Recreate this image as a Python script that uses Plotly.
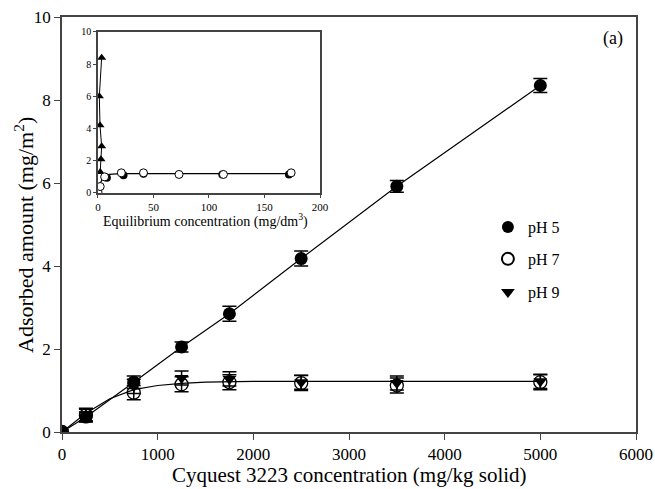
import plotly.graph_objects as go

# Main data
conc = [0, 250, 750, 1250, 1750, 2500, 3500, 5000]
ph5 = [0.0, 0.36, 1.2, 2.05, 2.85, 4.18, 5.92, 8.35]
ph5_err = [0.0, 0.12, 0.15, 0.12, 0.18, 0.18, 0.14, 0.17]
ph7 = [0.0, 0.4, 0.95, 1.15, 1.2, 1.18, 1.12, 1.2]
ph7_err = [0.0, 0.15, 0.17, 0.18, 0.18, 0.18, 0.18, 0.18]
ph9 = [0.0, 0.42, 1.1, 1.3, 1.28, 1.2, 1.18, 1.22]
ph9_err = [0.0, 0.15, 0.17, 0.17, 0.17, 0.17, 0.17, 0.17]
fit_x = [0, 250, 500, 750, 1000, 1250, 1500, 1750, 2000, 2500, 3000, 3500, 4000, 5000]
fit_y = [0.0, 0.45, 0.8, 1.02, 1.12, 1.17, 1.2, 1.21, 1.22, 1.22, 1.22, 1.22, 1.22, 1.22]

# Inset data
tri_x = [2.0, 2.7, 3.3, 1.8, 1.2, 3.3]
tri_y = [1.3, 2.1, 2.9, 4.2, 6.0, 8.4]
open_x = [0, 2, 6, 21, 41, 73, 113, 174]
open_y = [0.05, 0.4, 1.0, 1.25, 1.25, 1.15, 1.15, 1.25]
fill_x = [8, 23, 41, 112, 172]
fill_y = [0.95, 1.1, 1.2, 1.15, 1.15]
icurve_x = [0, 2, 5, 10, 20, 50, 100, 175]
icurve_y = [0.0, 0.6, 1.0, 1.15, 1.2, 1.2, 1.2, 1.2]

FONT = "Liberation Serif"
fig = go.Figure()

fig.add_trace(go.Scatter(x=fit_x, y=fit_y, mode="lines", line=dict(color="black", width=1.2),
                         showlegend=False, hoverinfo="skip"))
fig.add_trace(go.Scatter(x=conc, y=ph5, mode="lines", line=dict(color="black", width=1.2),
                         showlegend=False, hoverinfo="skip"))
fig.add_trace(go.Scatter(x=conc, y=ph5, mode="markers", name="pH 5", legend="legend",
                         marker=dict(symbol="circle", size=13, color="black"),
                         error_y=dict(type="data", array=ph5_err, color="black", thickness=1.5, width=7)))
fig.add_trace(go.Scatter(x=conc, y=ph7, mode="markers", name="pH 7", legend="legend2",
                         marker=dict(symbol="circle-open", size=13, color="black", line=dict(width=1.3)),
                         error_y=dict(type="data", array=ph7_err, color="black", thickness=1.5, width=7)))
fig.add_trace(go.Scatter(x=conc, y=ph9, mode="markers", name="pH 9", legend="legend3",
                         marker=dict(symbol="triangle-down", size=12, color="black"),
                         error_y=dict(type="data", array=ph9_err, color="black", thickness=1.5, width=7)))

# inset traces
fig.add_trace(go.Scatter(x=icurve_x, y=icurve_y, mode="lines", xaxis="x2", yaxis="y2",
                         line=dict(color="black", width=1.2), showlegend=False))
fig.add_trace(go.Scatter(x=tri_x, y=tri_y, mode="lines+markers", xaxis="x2", yaxis="y2",
                         line=dict(color="black", width=1),
                         marker=dict(symbol="triangle-up", size=8, color="black"), showlegend=False))
fig.add_trace(go.Scatter(x=fill_x, y=fill_y, mode="markers", xaxis="x2", yaxis="y2",
                         marker=dict(symbol="circle", size=8, color="black"), showlegend=False))
fig.add_trace(go.Scatter(x=open_x, y=open_y, mode="markers", xaxis="x2", yaxis="y2",
                         marker=dict(symbol="circle", size=8, color="white", line=dict(color="black", width=1)),
                         showlegend=False))

axis_common = dict(showgrid=False, zeroline=False, showline=True, linecolor="#444", linewidth=1.5,
                   mirror=True, ticks="outside", tickcolor="#444", tickwidth=1.2, automargin=False)

leg_common = dict(xanchor="left", yanchor="middle", font=dict(size=16, family=FONT),
                  bgcolor="rgba(0,0,0,0)", itemsizing="constant", itemwidth=30)

fig.update_layout(
    width=655, height=489,
    margin=dict(l=62, r=19, t=17, b=57),
    paper_bgcolor="white", plot_bgcolor="white",
    font=dict(family=FONT, color="black"),
    xaxis=dict(range=[0, 6000], dtick=1000, ticklen=6, tickfont=dict(size=17), **axis_common),
    yaxis=dict(range=[0, 10], dtick=2, ticklen=6, tickfont=dict(size=17), **axis_common),
    xaxis2=dict(domain=[0.0627, 0.4495], anchor="y2", range=[0, 200], dtick=50, ticklen=3,
                tickfont=dict(size=11), **axis_common),
    yaxis2=dict(domain=[0.576, 0.964], anchor="x2", range=[0, 10], dtick=2, ticklen=3,
                tickfont=dict(size=10), **axis_common),
    legend=dict(x=0.742, y=0.494, **leg_common),
    legend2=dict(x=0.742, y=0.417, **leg_common),
    legend3=dict(x=0.742, y=0.337, **leg_common),
    showlegend=True,
    annotations=[
        dict(text="(a)", x=0.981, y=0.949, xref="paper", yref="paper", xanchor="right",
             yanchor="middle", showarrow=False, font=dict(size=18, family=FONT)),
        dict(text="Cyquest 3223 concentration (mg/kg solid)", x=0.5, y=-0.104, xref="paper",
             yref="paper", xanchor="center", yanchor="middle", showarrow=False,
             font=dict(size=21, family=FONT)),
        dict(text="Adsorbed amount (mg/m<sup>2</sup>)", x=-0.066, y=0.475, xref="paper",
             yref="paper", xanchor="center", yanchor="middle", textangle=-90, showarrow=False,
             font=dict(size=22, family=FONT)),
        dict(text="Equilibrium concentration (mg/dm<sup>3</sup>)", x=0.2501, y=0.51, xref="paper",
             yref="paper", xanchor="center", yanchor="middle", showarrow=False,
             font=dict(size=14, family=FONT)),
    ],
)

fig.write_html("out.html")
